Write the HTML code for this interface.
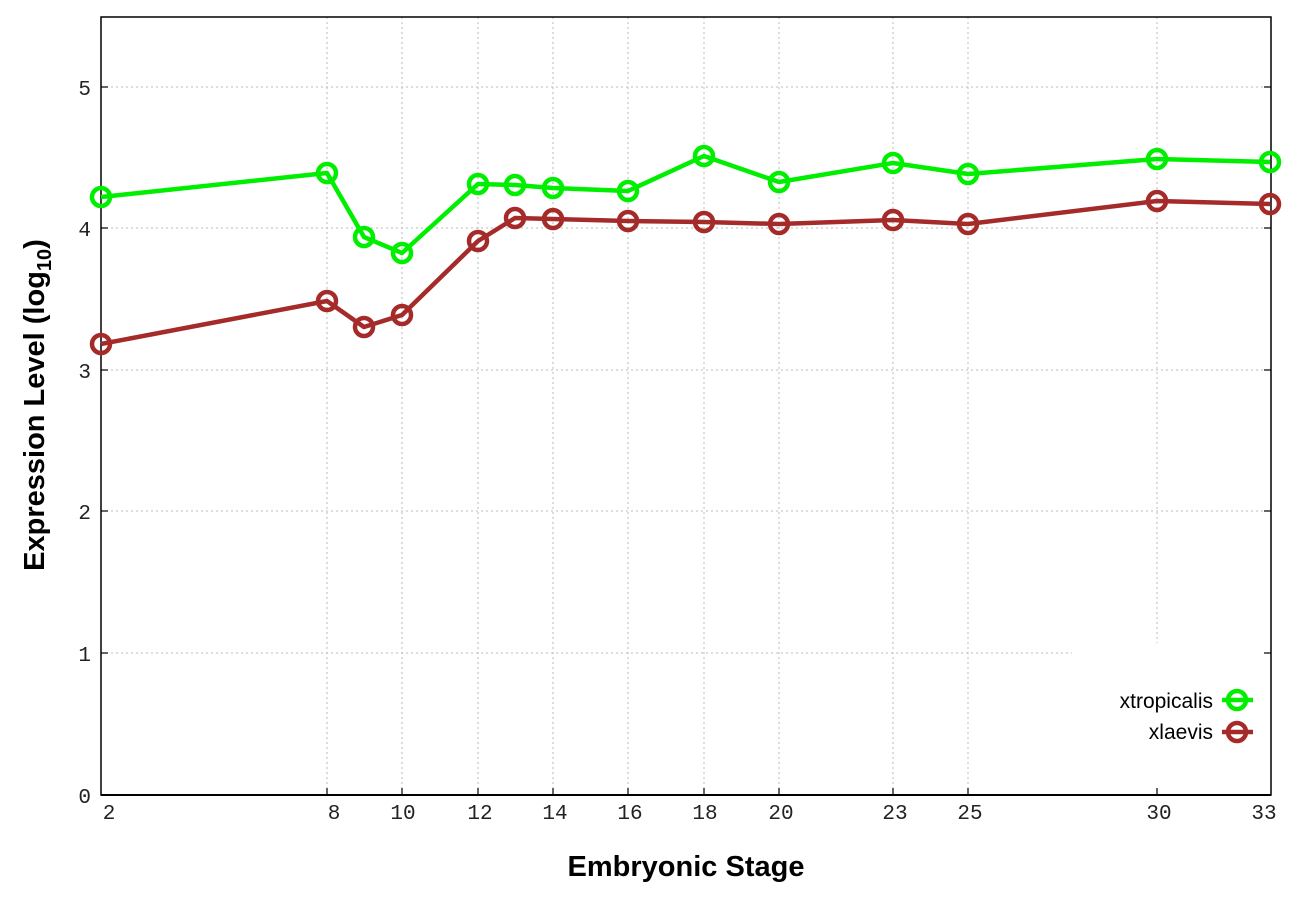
<!DOCTYPE html>
<html><head><meta charset="utf-8"><style>html,body{margin:0;padding:0;background:#fff}svg{display:block}</style></head>
<body>
<svg width="1296" height="907" viewBox="0 0 1296 907" xmlns="http://www.w3.org/2000/svg">
<rect width="1296" height="907" fill="#fff"/>
<g stroke="#bbb" stroke-width="1" stroke-dasharray="2,3">
<line x1="101" y1="87" x2="1271" y2="87"/>
<line x1="101" y1="228" x2="1271" y2="228"/>
<line x1="101" y1="370" x2="1271" y2="370"/>
<line x1="101" y1="511" x2="1271" y2="511"/>
<line x1="101" y1="653" x2="1072" y2="653"/>
<line x1="327" y1="17" x2="327" y2="795"/>
<line x1="402" y1="17" x2="402" y2="795"/>
<line x1="478" y1="17" x2="478" y2="795"/>
<line x1="553" y1="17" x2="553" y2="795"/>
<line x1="628" y1="17" x2="628" y2="795"/>
<line x1="704" y1="17" x2="704" y2="795"/>
<line x1="779" y1="17" x2="779" y2="795"/>
<line x1="893" y1="17" x2="893" y2="795"/>
<line x1="968" y1="17" x2="968" y2="795"/>
<line x1="1157" y1="17" x2="1157" y2="643"/>
</g>
<rect x="101" y="17" width="1170" height="778" fill="none" stroke="#000" stroke-width="1.5"/>
<line x1="101" y1="795" x2="1271" y2="795" stroke="#000" stroke-width="2"/>
<g stroke="#000" stroke-width="1.2">
<line x1="101" y1="87" x2="108" y2="87"/><line x1="1271" y1="87" x2="1264" y2="87"/>
<line x1="101" y1="228" x2="108" y2="228"/><line x1="1271" y1="228" x2="1264" y2="228"/>
<line x1="101" y1="370" x2="108" y2="370"/><line x1="1271" y1="370" x2="1264" y2="370"/>
<line x1="101" y1="511" x2="108" y2="511"/><line x1="1271" y1="511" x2="1264" y2="511"/>
<line x1="101" y1="653" x2="108" y2="653"/><line x1="1271" y1="653" x2="1264" y2="653"/>
<line x1="327" y1="795" x2="327" y2="788"/><line x1="402" y1="795" x2="402" y2="788"/>
<line x1="478" y1="795" x2="478" y2="788"/><line x1="553" y1="795" x2="553" y2="788"/>
<line x1="628" y1="795" x2="628" y2="788"/><line x1="704" y1="795" x2="704" y2="788"/>
<line x1="779" y1="795" x2="779" y2="788"/><line x1="893" y1="795" x2="893" y2="788"/>
<line x1="968" y1="795" x2="968" y2="788"/><line x1="1157" y1="795" x2="1157" y2="788"/>
</g>
<g font-family="Liberation Mono, monospace" font-size="21" fill="#222" text-anchor="end">
<text x="91" y="95">5</text><text x="91" y="236">4</text><text x="91" y="378">3</text>
<text x="91" y="519">2</text><text x="91" y="661">1</text><text x="91" y="803">0</text>
</g>
<g font-family="Liberation Mono, monospace" font-size="21" fill="#222" text-anchor="middle">
<text x="109" y="819">2</text><text x="334" y="819">8</text><text x="403" y="819">10</text>
<text x="480" y="819">12</text><text x="555" y="819">14</text><text x="630" y="819">16</text>
<text x="705" y="819">18</text><text x="781" y="819">20</text><text x="895" y="819">23</text>
<text x="970" y="819">25</text><text x="1159" y="819">30</text><text x="1264" y="819">33</text>
</g>
<text x="686" y="876" font-family="Liberation Sans, sans-serif" font-weight="bold" font-size="29" text-anchor="middle">Embryonic Stage</text>
<text transform="translate(44,405) rotate(-90)" font-family="Liberation Sans, sans-serif" font-weight="bold" font-size="29" text-anchor="middle">Expression Level (log<tspan font-size="20" dy="7">10</tspan><tspan dy="-7">)</tspan></text>
<g fill="none" stroke="#00ee00" stroke-width="4.5" stroke-linejoin="round">
<polyline points="101,197 327,173 364,237 402,253 478,184 515,185 553,188 628,191 704,156 779,182 893,163 968,174 1157,159 1270,162"/>
<circle cx="101" cy="197" r="9"/><circle cx="327" cy="173" r="9"/><circle cx="364" cy="237" r="9"/><circle cx="402" cy="253" r="9"/><circle cx="478" cy="184" r="9"/><circle cx="515" cy="185" r="9"/><circle cx="553" cy="188" r="9"/><circle cx="628" cy="191" r="9"/><circle cx="704" cy="156" r="9"/><circle cx="779" cy="182" r="9"/><circle cx="893" cy="163" r="9"/><circle cx="968" cy="174" r="9"/><circle cx="1157" cy="159" r="9"/><circle cx="1270" cy="162" r="9"/>
</g>
<g fill="none" stroke="#a52a2a" stroke-width="4.5" stroke-linejoin="round">
<polyline points="101,344 327,301 364,327 402,315 478,241 515,218 553,219 628,221 704,222 779,224 893,220 968,224 1157,201 1270,204"/>
<circle cx="101" cy="344" r="9"/><circle cx="327" cy="301" r="9"/><circle cx="364" cy="327" r="9"/><circle cx="402" cy="315" r="9"/><circle cx="478" cy="241" r="9"/><circle cx="515" cy="218" r="9"/><circle cx="553" cy="219" r="9"/><circle cx="628" cy="221" r="9"/><circle cx="704" cy="222" r="9"/><circle cx="779" cy="224" r="9"/><circle cx="893" cy="220" r="9"/><circle cx="968" cy="224" r="9"/><circle cx="1157" cy="201" r="9"/><circle cx="1270" cy="204" r="9"/>
</g>
<g font-family="Liberation Sans, sans-serif" font-size="21" text-anchor="end" fill="#000">
<text x="1213" y="708">xtropicalis</text><text x="1213" y="739">xlaevis</text>
</g>
<g fill="none" stroke-width="4.5">
<line x1="1222" y1="700" x2="1253" y2="700" stroke="#00ee00"/><circle cx="1237" cy="700" r="9" stroke="#00ee00"/>
<line x1="1222" y1="732" x2="1253" y2="732" stroke="#a52a2a"/><circle cx="1237" cy="732" r="9" stroke="#a52a2a"/>
</g>
</svg>
</body></html>
